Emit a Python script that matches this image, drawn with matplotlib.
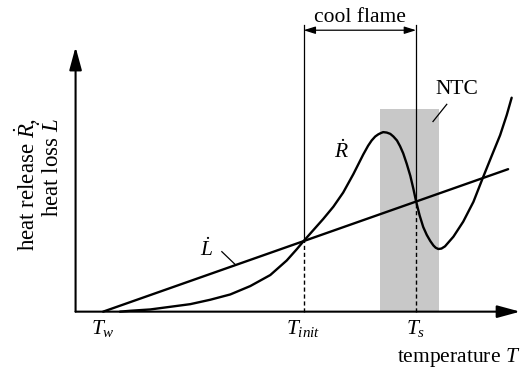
import matplotlib
matplotlib.use("Agg")
import matplotlib.pyplot as plt
from matplotlib.patches import Rectangle

plt.rcParams["font.family"] = "Liberation Serif"
plt.rcParams["mathtext.fontset"] = "custom"
plt.rcParams["mathtext.rm"] = "Liberation Serif"
plt.rcParams["mathtext.it"] = "Liberation Serif:italic"

# characteristic temperatures (arbitrary units)
T_w = 0.62
T_init = 5.13
T_s = 7.66
ntc_range = [6.85, 8.17]
ntc_top = 4.59

# heat loss: straight line from the wall temperature
loss_T = [T_w, 9.73]
loss_Q = [0.0, 3.23]

# heat release curve
release_T = [1.00, 1.23, 1.68, 2.13, 2.58, 3.03, 3.48, 3.93, 4.38, 4.75,
             4.98, 5.13, 5.35, 5.57, 5.80, 6.02, 6.25, 6.47, 6.58, 6.66,
             6.74, 6.81, 6.87, 6.92, 7.00, 7.08, 7.15, 7.23, 7.30, 7.37,
             7.45, 7.53, 7.60, 7.66, 7.74, 7.82, 7.90, 7.98, 8.05, 8.10,
             8.16, 8.23, 8.31, 8.50, 8.72, 8.95, 9.16, 9.36, 9.55, 9.70,
             9.81]
release_Q = [0.00, 0.02, 0.05, 0.11, 0.17, 0.27, 0.39, 0.58, 0.83, 1.16,
             1.42, 1.60, 1.85, 2.10, 2.38, 2.70, 3.12, 3.56, 3.76, 3.88,
             3.97, 4.02, 4.05, 4.07, 4.06, 4.03, 3.97, 3.88, 3.75, 3.59,
             3.35, 3.08, 2.78, 2.50, 2.18, 1.92, 1.74, 1.60, 1.50, 1.45,
             1.42, 1.43, 1.48, 1.70, 2.04, 2.49, 3.03, 3.53, 4.00, 4.46,
             4.85]

fig = plt.figure(figsize=(5.21, 3.69), dpi=100)
ax = fig.add_axes([0, 0, 1, 1])
ax.set_xlim(-1.70, 10.02)
ax.set_ylim(-1.30, 7.065)
ax.axis("off")

fs = 15.5

# NTC band
ax.add_patch(Rectangle((ntc_range[0], 0), ntc_range[1] - ntc_range[0], ntc_top,
                       facecolor="#c8c8c8", edgecolor="none", zorder=0))

# axes with arrow heads
arrow = dict(arrowstyle="-|>,head_length=1.4,head_width=0.38", lw=1.5,
             color="black", shrinkA=0, shrinkB=0)
ax.annotate("", xy=(10.0, 0), xytext=(0, 0), arrowprops=arrow)
ax.annotate("", xy=(0, 6.0), xytext=(0, 0), arrowprops=arrow)

# curves
ax.plot(loss_T, loss_Q, color="black", lw=1.7, solid_capstyle="round")
ax.plot(release_T, release_Q, color="black", lw=1.7,
        solid_joinstyle="round", solid_capstyle="round")

# vertical markers: dashed under the intersection, solid above it
slope = (loss_Q[1] - loss_Q[0]) / (loss_T[1] - loss_T[0])
for T in (T_init, T_s):
    q = slope * (T - T_w)
    ax.plot([T, T], [0, q], color="black", lw=1.0, ls=(0, (3, 2)))
    ax.plot([T, T], [q, 6.50], color="black", lw=0.9)

# cool flame span
ax.annotate("", xy=(T_init, 6.38), xytext=(T_s, 6.38),
            arrowprops=dict(arrowstyle="<|-|>,head_length=0.7,head_width=0.22",
                            lw=0.9, color="black", shrinkA=0, shrinkB=0))
ax.text((T_init + T_s) / 2, 6.66, "cool flame", fontsize=fs,
        ha="center", va="center")

# NTC label with leader
ax.text(8.58, 5.04, "NTC", fontsize=fs, ha="center", va="center")
ax.plot([8.04, 8.35], [4.31, 4.70], color="black", lw=0.9)

# curve labels
ax.text(5.99, 3.63, r"$\dot{R}$", fontsize=fs, ha="center", va="center")
ax.text(2.95, 1.40, r"$\dot{L}$", fontsize=fs, ha="center", va="center")
ax.plot([3.29, 3.59], [1.36, 1.07], color="black", lw=0.9)

# temperature ticks
for T, lab in ((T_w, r"$T_w$"), (T_init, r"$T_{init}$"), (T_s, r"$T_s$")):
    ax.text(T, -0.14, lab, fontsize=fs, ha="center", va="top")

ax.text(10.0, -1.05, r"temperature $T$", fontsize=fs, ha="right", va="center")

# y label in two lines
ax.text(-1.10, 4.39, r"heat release $\dot{R}$,", fontsize=16.5, rotation=90,
        ha="center", va="top")
ax.text(-0.54, 4.39, r"heat loss $\dot{L}$", fontsize=16.5, rotation=90,
        ha="center", va="top")

fig.savefig("out.png", dpi=100, facecolor="white")
